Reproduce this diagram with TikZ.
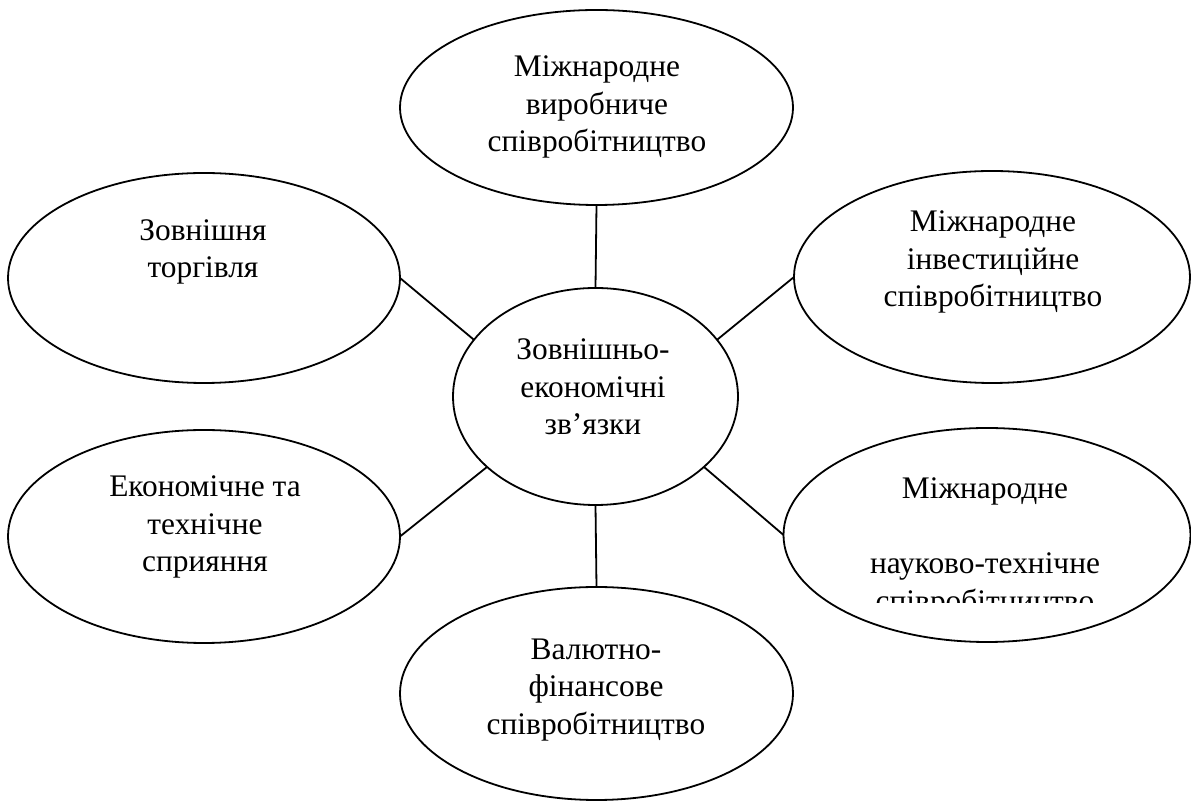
\documentclass[tikz,border=0pt]{standalone}
\usepackage{fontspec}
\setmainfont{Liberation Serif}
\usetikzlibrary{shapes.geometric}
\begin{document}
\begin{tikzpicture}[x=0.5pt,y=-0.5pt,
  oval/.style={draw, ellipse, line width=0.9pt, inner sep=0pt, outer sep=0pt},
  lbl/.style={align=center, inner sep=0pt, font=\fontsize{15.7}{18.8}\selectfont},
  link/.style={line width=0.9pt}]
\useasboundingbox (0,0) rectangle (1191,801);
\node[oval, minimum width=196.5pt, minimum height=97.5pt] (T) at (596.5,107.5) {};
\node[oval, minimum width=196pt, minimum height=105pt] (L1) at (204,278) {};
\node[oval, minimum width=198pt, minimum height=106pt] (R1) at (992,277) {};
\node[oval, minimum width=142.5pt, minimum height=108.5pt] (C) at (595.5,396.5) {};
\node[oval, minimum width=196pt, minimum height=106.5pt] (L2) at (204,536.5) {};
\node[oval, minimum width=203.5pt, minimum height=107pt] (R2) at (987,535) {};
\node[oval, minimum width=196.5pt, minimum height=106.5pt] (B) at (596.5,693.5) {};

\node[lbl] (tT) at (597,107) {Міжнародне\\виробниче\\співробітництво};
\node[lbl] (tL1) at (203,252) {Зовнішня\\торгівля};
\node[lbl] (tR1) at (993,262) {Міжнародне\\інвестиційне\\співробітництво};
\node[lbl] (tC) at (593,387) {Зовнішньо-\\економічні\\зв’язки};
\node[lbl] (tL2) at (205,527) {Економічне та\\технічне\\сприяння};
\begin{scope}
\clip (783,440) rectangle (1190,603);
\node[lbl] (tR2) at (985,548) {Міжнародне\\ \strut \\науково-технічне\\співробітництво};
\end{scope}
\node[lbl] (tB) at (596,690) {Валютно-\\фінансове\\співробітництво};

\draw[link] (T.south) -- (C.north);
\draw[link] (L1.east) -- (C.155);
\draw[link] (R1.west) -- (C.25);
\draw[link] (L2.east) -- (C.213);
\draw[link] (R2.west) -- (C.-33);
\draw[link] (C.south) -- (B.north);
\end{tikzpicture}
\end{document}
